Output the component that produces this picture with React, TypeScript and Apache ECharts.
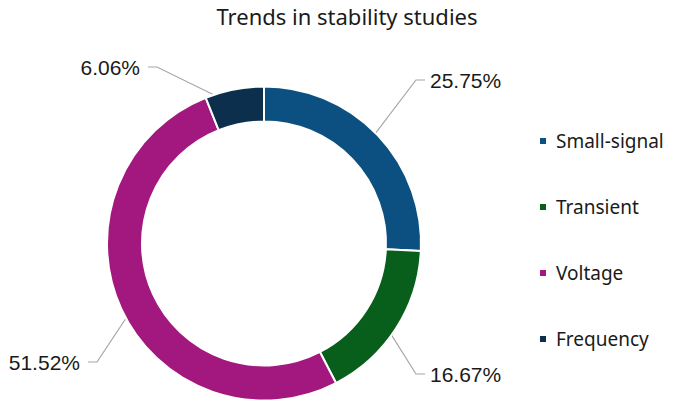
import React, { useEffect, useRef } from "react";
import * as echarts from "echarts";

const categories = ["Small-signal", "Transient", "Voltage", "Frequency"];
const shares = [25.75, 16.67, 51.52, 6.06];
const colors = ["#0b5080", "#085e1b", "#a3187f", "#0c2f4e"];
const titleText = "Trends in stability studies";

// layout of the percentage labels (elbow of the leader line, side of the text, text gap)
const labelElbows = [
  [416, 80],
  [416, 374],
  [97, 362],
  [157, 67],
];
const labelSides = [1, 1, -1, -1];
const labelGaps = [5, 5, 8, 8];

const CX = 264;
const CY = 243.5;
const R_IN = 122;
const R_OUT = 157;

export default function App() {
  const ref = useRef<HTMLDivElement>(null);
  useEffect(() => {
    if (!ref.current) return;
    const chart = echarts.init(ref.current, null, { renderer: "svg" });
    const total = shares.reduce((a, b) => a + b, 0);
    const mids: number[] = [];
    let cum = 0;
    shares.forEach((v) => {
      mids.push(cum + v / 2);
      cum += v;
    });
    const rMid = (R_IN + R_OUT) / 2;
    chart.setOption({
      animation: false,
      title: {
        text: titleText,
        left: 342,
        textAlign: "center",
        top: 0,
        textStyle: {
          fontFamily: "Noto Sans",
          fontSize: 22,
          fontWeight: "normal",
          color: "#1a1a1a",
        },
      },
      legend: {
        orient: "vertical",
        left: 533,
        top: 125,
        itemWidth: 8,
        itemHeight: 8,
        itemGap: 44,
        icon: "rect",
        data: categories,
        textStyle: {
          fontFamily: "Noto Sans",
          fontSize: 19,
          color: "#1a1a1a",
          lineHeight: 22,
          padding: [0, 0, 0, 4],
        },
      },
      series: [
        {
          type: "pie",
          center: [CX, CY],
          radius: [R_IN, R_OUT],
          startAngle: 90,
          clockwise: true,
          itemStyle: { borderColor: "#ffffff", borderWidth: 2 },
          label: {
            show: true,
            position: "outside",
            formatter: (p: any) => Number(p.value).toFixed(2) + "%",
            fontFamily: "Liberation Sans",
            fontSize: 21,
            color: "#1a1a1a",
          },
          labelLine: {
            show: true,
            length: 10,
            length2: 10,
            lineStyle: { color: "#a6a6a6", width: 1.2 },
          },
          labelLayout: (params: any) => {
            const i = params.dataIndex;
            const frac = mids[i] / total;
            const theta = Math.PI / 2 - frac * 2 * Math.PI;
            const ax = CX + rMid * Math.cos(theta);
            const ay = CY - rMid * Math.sin(theta);
            const [ex, ey] = labelElbows[i];
            const side = labelSides[i];
            const hx = ex + side * 9;
            return {
              x: hx + side * labelGaps[i],
              y: ey,
              align: side > 0 ? "left" : "right",
              verticalAlign: "middle",
              labelLinePoints: [
                [ax, ay],
                [ex, ey],
                [hx, ey],
              ],
            };
          },
          data: categories.map((name, i) => ({
            name,
            value: shares[i],
            itemStyle: { color: colors[i] },
          })),
        },
      ],
    });
    return () => chart.dispose();
  }, []);
  return (
    <div
      ref={ref}
      style={{ position: "fixed", left: 0, top: 0, width: 675, height: 406, background: "#fff" }}
    />
  );
}
